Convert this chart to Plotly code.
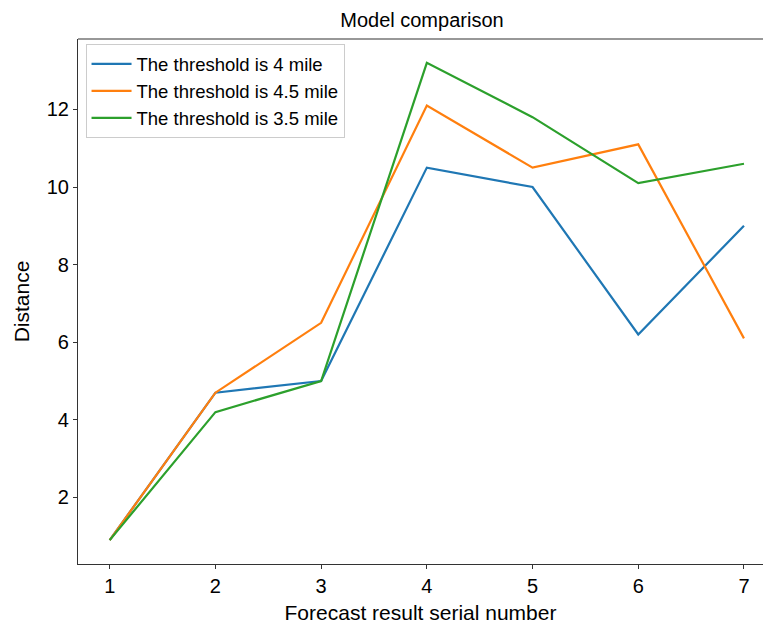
import plotly.graph_objects as go

x_vals = [1, 2, 3, 4, 5, 6, 7]
thr_4 = [0.9, 4.7, 5.0, 10.5, 10.0, 6.2, 9.0]
thr_45 = [0.9, 4.7, 6.5, 12.1, 10.5, 11.1, 6.1]
thr_35 = [0.9, 4.2, 5.0, 13.2, 11.8, 10.1, 10.6]
names = ["The threshold is 4 mile", "The threshold is 4.5 mile", "The threshold is 3.5 mile"]
colors = ["#1f77b4", "#ff7f0e", "#2ca02c"]

fig = go.Figure()
for ys, nm, c in zip([thr_4, thr_45, thr_35], names, colors):
    fig.add_trace(go.Scatter(x=x_vals, y=ys, mode="lines", name=nm,
                             line=dict(color=c, width=2.2)))

font = "Liberation Sans, Arial, sans-serif"
fig.update_layout(
    width=763, height=624,
    margin=dict(l=78, r=0, t=39, b=60),
    plot_bgcolor="white", paper_bgcolor="white",
    font=dict(family=font, color="black", size=20),
    title=dict(text="Model comparison", x=0.553, xanchor="center", y=0.968, yanchor="middle",
               font=dict(size=20, family=font)),
    showlegend=True,
    legend=dict(x=0.011, y=0.99, xanchor="left", yanchor="top",
                bgcolor="rgba(255,255,255,0.8)", bordercolor="#cccccc", borderwidth=1,
                font=dict(size=18.5, family=font), tracegroupgap=0, itemwidth=40),
    xaxis=dict(range=[0.7, 7.18], tickvals=x_vals, ticktext=[str(v) for v in x_vals],
               showgrid=False, zeroline=False, showline=True, linecolor="#333333", linewidth=1.2,
               ticks="outside", ticklen=4, tickcolor="#333333",
               title=dict(text="Forecast result serial number", font=dict(size=21), standoff=10),
               tickfont=dict(size=20)),
    yaxis=dict(range=[0.285, 13.815], tickvals=[2, 4, 6, 8, 10, 12],
               showgrid=False, zeroline=False, showline=True, linecolor="#333333", linewidth=1.2,
               ticks="outside", ticklen=4, tickcolor="#333333",
               title=dict(text="Distance", font=dict(size=21), standoff=11),
               tickfont=dict(size=20)),
)
fig.add_shape(type="line", xref="paper", yref="paper", x0=0, x1=1, y0=1, y1=1,
              line=dict(color="#333333", width=1.2))
fig.write_html("out.html", config={"displayModeBar": False},
               post_script="document.body.style.margin='0';")
